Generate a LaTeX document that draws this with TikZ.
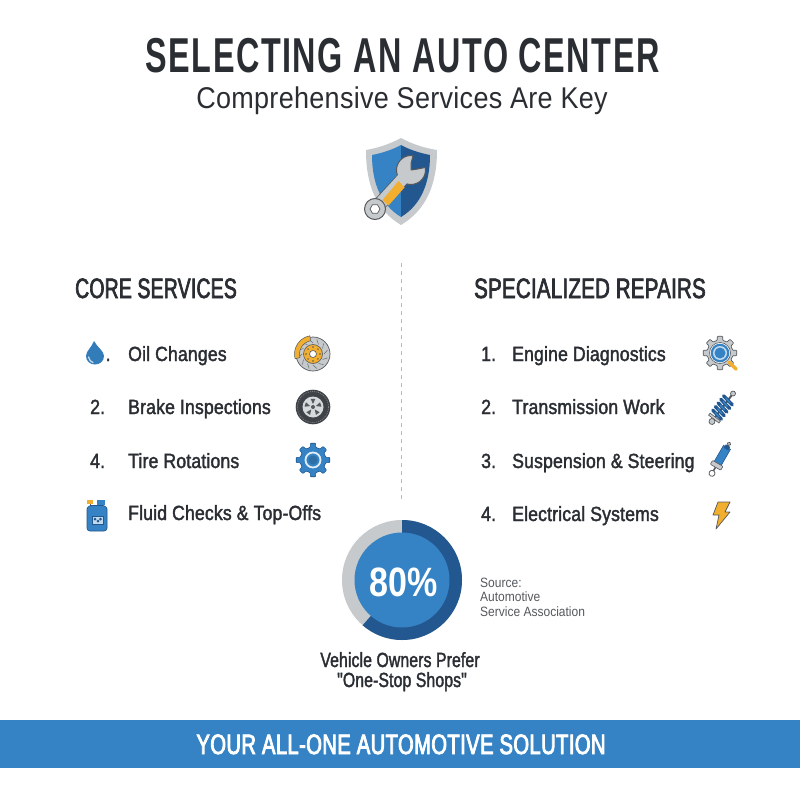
\documentclass[tikz,border=0pt]{standalone}
\usepackage{fontspec}
\usetikzlibrary{calc}
\setmainfont{Liberation Sans}
\newfontfamily\fTitle[FakeStretch=0.66,LetterSpace=3.2]{Liberation Sans Bold}
\newfontfamily\fSub[FakeStretch=0.9,LetterSpace=1]{Liberation Sans}
\newfontfamily\fMed[FakeStretch=0.86,LetterSpace=0.8,RawFeature={embolden=1.8}]{Liberation Sans}
\newfontfamily\fCtr[FakeStretch=0.77,LetterSpace=0.6,RawFeature={embolden=1.8}]{Liberation Sans}
\newfontfamily\fHeadA[FakeStretch=0.69,LetterSpace=1,RawFeature={embolden=2.4}]{Liberation Sans}
\newfontfamily\fHeadB[FakeStretch=0.73,LetterSpace=1,RawFeature={embolden=2.4}]{Liberation Sans}
\newfontfamily\fBan[FakeStretch=0.72,LetterSpace=1.5,RawFeature={embolden=3}]{Liberation Sans}
\newfontfamily\fBold[FakeStretch=0.83]{Liberation Sans Bold}
\newfontfamily\fReg[FakeStretch=0.89]{Liberation Sans}
\definecolor{ink}{HTML}{2A2E33}
\definecolor{blueA}{HTML}{3583C4}
\definecolor{blueD}{HTML}{22578F}
\definecolor{greyA}{HTML}{C6CACD}
\definecolor{greyB}{HTML}{B9BCBF}
\definecolor{outl}{HTML}{55595D}
\definecolor{gold}{HTML}{F2AE2E}
\tikzset{
  lbl/.style={anchor=base west,inner sep=0pt,text=ink},
  itemtxt/.style={lbl,font=\fMed\fontsize{20.5}{20.5}\selectfont},
  headA/.style={lbl,font=\fHeadA\fontsize{28}{28}\selectfont},
  headB/.style={lbl,font=\fHeadB\fontsize{28}{28}\selectfont},
  srctxt/.style={lbl,text=outl,font=\fReg\fontsize{13.5}{13.5}\selectfont},
  ctrtxt/.style={anchor=base,inner sep=0pt,text=ink,font=\fCtr\fontsize{20.5}{20.5}\selectfont},
  ol/.style={draw=outl,line width=.7pt,line join=round},
}
\begin{document}
\begin{tikzpicture}[x=1pt,y=-1pt]
\useasboundingbox (0,0) rectangle (800,800);
\fill[white] (0,0) rectangle (800,800);
% titles
\node[anchor=base,inner sep=0pt,text=ink,font=\fTitle\fontsize{49}{49}\selectfont] (title) at (402.5,72) {SELECTING AN AUTO CENTER};
\node[anchor=base,inner sep=0pt,text=ink,font=\fSub\fontsize{30}{30}\selectfont] (subtitle) at (402,108) {Comprehensive Services Are Key};
% shield
\fill[greyA] (401,138) .. controls (390,144) and (378,148) .. (366,150) .. controls (366,185) and (376,210) .. (401,225) .. controls (426,210) and (437,185) .. (437,150) .. controls (424,148) and (412,144) .. (401,138) -- cycle;
\fill[blueA] (401,145) .. controls (392,150) and (382,153) .. (372,155) .. controls (372,183) and (381,205) .. (401,217) -- cycle;
\fill[blueD] (401,145) .. controls (410,150) and (420,153) .. (430,155) .. controls (430,183) and (421,205) .. (401,217) -- cycle;
% wrench
\draw[outl,line width=13.5pt] (375,209) -- (411,170);
\begin{scope}[shift={(411,170)},y=1pt]
\draw[ol,fill=greyA,line width=1pt] (82:14.5) arc (82:370:14.5) -- (8:5) -- (40:0) -- (0,6.5) -- cycle;
\end{scope}
\draw[greyA,line width=12pt] (377,207) -- (408,173);
\fill[gold] (382.5,200) -- (388.5,205.5) -- (404.5,187.5) -- (398.5,181) -- cycle;
\draw[ol,fill=greyA,line width=1pt] (375,209) circle (10.5);
\begin{scope}[shift={(375,209)},y=1pt]
\draw[ol,fill=white] (0:5) -- (60:5) -- (120:5) -- (180:5) -- (240:5) -- (300:5) -- cycle;
\end{scope}
% divider
\coordinate (divtop) at (401,263);
\coordinate (divbot) at (401,500);
\draw[greyB,line width=1pt,dash pattern=on 4pt off 4pt] (divtop) -- (divbot);
% headings
\node[headA] (hcore) at (75,298) {CORE SERVICES};
\node[headB] (hspec) at (474,298) {SPECIALIZED REPAIRS};
% left list
\node[itemtxt] (ldot) at (105.5,361) {.};
\node[itemtxt] (l1) at (128,361) {Oil Changes};
\node[itemtxt] (n2) at (90,414) {2.};
\node[itemtxt] (l2) at (128,414) {Brake Inspections};
\node[itemtxt] (n4) at (90,468) {4.};
\node[itemtxt] (l3) at (128,468) {Tire Rotations};
\node[itemtxt] (l4) at (128,520) {Fluid Checks \& Top-Offs};
% right list
\node[itemtxt] (r1n) at (481,361) {1.};
\node[itemtxt] (r1) at (512,361) {Engine Diagnostics};
\node[itemtxt] (r2n) at (481,414) {2.};
\node[itemtxt] (r2) at (512,414) {Transmission Work};
\node[itemtxt] (r3n) at (481,468) {3.};
\node[itemtxt] (r3) at (512,468) {Suspension \& Steering};
\node[itemtxt] (r4n) at (481,521) {4.};
\node[itemtxt] (r4) at (512,521) {Electrical Systems};
% droplet
\fill[blueA!95!black] (94,341) .. controls (92,347) and (86,351) .. (86,356) .. controls (86,361) and (90,364.5) .. (95,364.5) .. controls (100,364.5) and (104,361) .. (104,356) .. controls (104,351) and (97,347) .. (94,341) -- cycle;
\draw[white!75!blueA,line width=1.2pt,line cap=round] (88.5,357) .. controls (89,360) and (91,362) .. (93,362.5);
% bottle
\fill[gold] (87,500) rectangle (93,504);
\draw[outl,line width=.7pt] (90,504) -- (90,507);
\fill[blueA] (97,500) rectangle (105,505);
\draw[blueD,line width=.7pt,rounded corners=1pt,fill=blueA] (87,508) -- (90,505.5) -- (104,505.5) -- (107,508) -- (107,529) -- (105,531) -- (89,531) -- (87,529) -- cycle;
\draw[blueD,line width=.6pt,fill=blueA!30] (92,516) rectangle (103,524);
\fill[blueD] (95,519) circle (1.5) (98,521) circle (1.5) (100.5,519) circle (1.5);
% brake disc
\draw[outl,line width=.7pt,fill=greyA] (313,354) circle (17);
\begin{scope}[shift={(313,354)},y=1pt]
\foreach \a in {0,30,...,330}{\draw[outl,line width=.4pt] (\a:11) -- (\a+15:15);}
\draw[outl,line width=.5pt,fill=gold] (100:18.5) arc (100:195:18.5) -- (195:13.5) arc (195:100:13.5) -- cycle;
\draw[outl,line width=.6pt,fill=gold] (0,0) circle (9.5);
\foreach \a in {0,45,...,315}{\fill[outl] (\a:7) circle (.8);}
\draw[outl,line width=.6pt,fill=white] (0,0) circle (3.5);
\end{scope}
% tire
\fill[ink!90] (313,407) circle (17.3);
\draw[outl!70,line width=.6pt,dash pattern=on 1pt off 1pt] (313,407) circle (15.5);
\fill[greyA!70] (313,407) circle (10.5);
\begin{scope}[shift={(313,407)},y=1pt]
\foreach \a in {18,90,162,234,306}{\fill[outl] (\a-16:8.5) -- (\a+16:8.5) -- (\a:3) -- cycle;}
\fill[outl] (0,0) circle (2);
\end{scope}
% gear
\begin{scope}[shift={(313,460)},y=1pt]
\draw[blueD,line width=.6pt,fill=blueA,line join=round,rounded corners=.8pt]
 (-12:13) -- (-9:17) -- (9:17) -- (12:13) -- (33:13) -- (36:17) -- (54:17) -- (57:13) -- (78:13) -- (81:17) -- (99:17) -- (102:13) -- (123:13) -- (126:17) -- (144:17) -- (147:13) -- (168:13) -- (171:17) -- (189:17) -- (192:13) -- (213:13) -- (216:17) -- (234:17) -- (237:13) -- (258:13) -- (261:17) -- (279:17) -- (282:13) -- (303:13) -- (306:17) -- (324:17) -- (327:13) -- cycle;
\draw[white!85!blueA,line width=1.8pt] (0,0) circle (7.5);
\fill[blueA!85!black] (0,0) circle (4.5);
\end{scope}
% magnifier gear
\begin{scope}[shift={(720,353)},y=1pt]
\draw[outl,line width=.7pt,fill=greyA,line join=round,rounded corners=.8pt]
 (-12:13) -- (-9:17) -- (9:17) -- (12:13) -- (33:13) -- (36:17) -- (54:17) -- (57:13) -- (78:13) -- (81:17) -- (99:17) -- (102:13) -- (123:13) -- (126:17) -- (144:17) -- (147:13) -- (168:13) -- (171:17) -- (189:17) -- (192:13) -- (213:13) -- (216:17) -- (234:17) -- (237:13) -- (258:13) -- (261:17) -- (279:17) -- (282:13) -- (303:13) -- (306:17) -- (324:17) -- (327:13) -- cycle;
\draw[gold,line width=3.2pt,line cap=round] (-45:13) -- (-45:23);
\draw[outl,line width=.6pt,fill=white] (0,0) circle (10.5);
\fill[blueA] (0,0) circle (9.3);
\fill[white!70!blueA] (0,0) circle (7);
\fill[blueA] (0,0) circle (5.5);
\end{scope}
% coil spring
\begin{scope}[shift={(722.5,407.5)},rotate=53,y=1pt]
\draw[outl,line width=2pt] (-15,0) -- (15,0);
\draw[outl,line width=.7pt,fill=greyA] (17.5,0) circle (2.5);
\draw[outl,line width=.7pt,fill=greyA] (-17.5,0) circle (3);
\foreach \t in {-9,-4.5,0,4.5,9}{
  \draw[blueD,line width=3.4pt,line cap=round] (\t-1,-6.2) -- (\t+1,6.2);
}
\foreach \t in {-9,-4.5,0,4.5,9}{
  \draw[blueA,line width=1.4pt,line cap=round] (\t-.6,-3) -- (\t+.6,3);
}
\draw[outl,line width=.6pt,fill=greyA] (-14.5,-6.5) rectangle (-12,6.5);
\end{scope}
% shock
\begin{scope}[shift={(722,456)},rotate=60,y=1pt]
\draw[outl,line width=1.6pt] (-17,0) -- (-12,0);
\draw[outl,line width=1.6pt] (10,0) -- (14,0);
\draw[blueD,line width=.6pt,fill=blueA] (-9,-4) rectangle (10,4);
\fill[blueD] (8,-2.5) rectangle (12,2.5);
\draw[outl,line width=.6pt,fill=greyA,rounded corners=.8pt] (-13,-6) rectangle (-8.5,6);
\draw[outl,line width=.8pt,fill=white] (-20,0) circle (3);
\draw[outl,line width=.7pt,fill=greyA] (14,0) circle (1.8);
\end{scope}
% lightning
\draw[outl,line width=.7pt,fill=gold,line join=round] (718,502) -- (730,502) -- (725,512) -- (730,512) -- (716,529) -- (719,515) -- (713,515) -- cycle;
% donut
\begin{scope}[shift={(402,580)},y=1pt]
\fill[greyA] (0,0) circle (60);
\fill[blueD] (0,0) -- (90:60) arc (90:-131:60) -- cycle;
\fill[blueA] (0,0) circle (47.5);
\end{scope}
\node[anchor=base,inner sep=0pt,text=white,font=\fBold\fontsize{41}{41}\selectfont] (pct) at (403.5,596) {80\%};
\node[srctxt] (s1) at (480,587) {Source:};
\node[srctxt] (s2) at (480,601.5) {Automotive};
\node[srctxt] (s3) at (480,616) {Service Association};
\node[ctrtxt] (c1) at (400,667) {Vehicle Owners Prefer};
\node[ctrtxt] (c2) at (402,687) {"One-Stop Shops"};
% banner
\fill[blueA] (0,720) rectangle (800,768);
\node[anchor=base,inner sep=0pt,text=white,font=\fBan\fontsize{28}{28}\selectfont] (banner) at (401,754) {YOUR ALL-ONE AUTOMOTIVE SOLUTION};
\end{tikzpicture}
\end{document}
